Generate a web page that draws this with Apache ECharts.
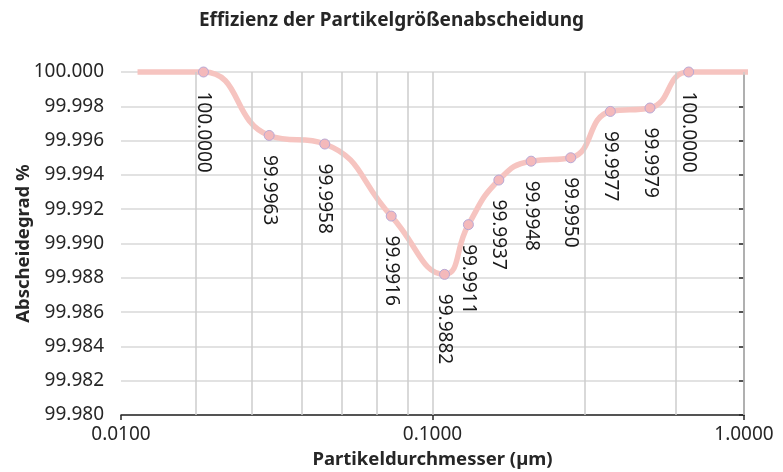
<!DOCTYPE html>
<html>
<head>
<meta charset="utf-8">
<script src="https://cdn.jsdelivr.net/npm/echarts@6/dist/echarts.min.js"></script>
<style>
html,body{margin:0;padding:0;background:#fff;}
#chart{width:783px;height:472px;}
</style>
</head>
<body>
<div id="chart"></div>
<script>
// Particle diameters (µm) and separation efficiency (%)
const diameters = [0.0113, 0.0184, 0.0299, 0.0451, 0.0737, 0.1093, 0.1304, 0.1633, 0.2073, 0.2778, 0.3724, 0.4991, 0.6644, 1.13];
const efficiency = [100.0000, 100.0000, 99.9963, 99.9958, 99.9916, 99.9882, 99.9911, 99.9937, 99.9948, 99.9950, 99.9977, 99.9979, 100.0000, 100.0000];
// which points carry a marker + value label
const labelled = [false, true, true, true, true, true, true, true, true, true, true, true, true, false];
// vertical gridline positions (µm)
const gridLinesX = [0.0173, 0.0266, 0.0376, 0.0508, 0.0657, 0.0824, 0.1, 0.3077, 0.596, 1.0];
const xTickLabels = ['0.0100', '0.1000', '1.0000'];

const FONT = '"Noto Sans", sans-serif';
const TXT = '#262626';

const seriesData = diameters.map((d, i) => {
  const item = { value: [Math.log10(d), efficiency[i]] };
  if (!labelled[i]) {
    item.symbol = 'none';
    item.label = { show: false };
  }
  return item;
});

const chart = echarts.init(document.getElementById('chart'));
chart.setOption({
  animation: false,
  backgroundColor: '#ffffff',
  title: {
    text: 'Effizienz der Partikelgrößenabscheidung',
    left: 'center',
    top: 6,
    textStyle: { fontFamily: FONT, fontSize: 19, fontWeight: 'bold', color: TXT }
  },
  grid: { left: 121, right: 39, top: 72, bottom: 57, containLabel: false, outerBoundsMode: 'none' },
  xAxis: {
    type: 'value',
    min: -2, max: 0, interval: 1,
    name: 'Partikeldurchmesser (µm)',
    nameLocation: 'middle',
    nameGap: 35,
    nameMoveOverlap: false,
    nameTextStyle: { fontFamily: FONT, fontSize: 18.5, fontWeight: 'bold', color: TXT },
    axisLine: { show: true, lineStyle: { color: '#262626', width: 1.5 } },
    axisTick: { show: true, length: 5, lineStyle: { color: '#262626', width: 1.5 } },
    axisLabel: {
      fontFamily: FONT, fontSize: 19, color: TXT, margin: 10,
      formatter: v => xTickLabels[Math.round(v) + 2]
    },
    splitLine: { show: false }
  },
  yAxis: {
    type: 'value',
    min: 99.98, max: 100, interval: 0.002,
    name: 'Abscheidegrad %',
    nameLocation: 'middle',
    nameRotate: 90,
    nameGap: 88,
    nameMoveOverlap: false,
    nameTextStyle: { fontFamily: FONT, fontSize: 18.5, fontWeight: 'bold', color: TXT },
    axisLine: { show: true, lineStyle: { color: '#262626', width: 1.5 } },
    axisTick: { show: true, length: 5, lineStyle: { color: '#262626', width: 1.5 } },
    axisLabel: {
      fontFamily: FONT, fontSize: 19, color: TXT, margin: 17,
      formatter: v => v.toFixed(3)
    },
    splitLine: { show: true, lineStyle: { color: '#d9d9d9', width: 1.5 } }
  },
  series: [
    {
      type: 'line',
      z: 1,
      data: [],
      silent: true,
      markLine: {
        silent: true,
        symbol: 'none',
        label: { show: false },
        lineStyle: { color: '#cccccc', width: 1.5, type: 'solid' },
        data: gridLinesX.map(v => ({ xAxis: Math.log10(v) }))
      }
    },
    {
      type: 'line',
      z: 3,
      clip: false,
      smooth: 0.5,
      data: seriesData,
      symbol: 'circle',
      symbolSize: 10,
      showAllSymbol: true,
      lineStyle: { color: '#f6c4c0', width: 5.5 },
      itemStyle: { color: '#f4b9bb', borderColor: '#b8a9d6', borderWidth: 1 },
      label: {
        show: true,
        position: 'bottom',
        distance: 14,
        rotate: -90,
        align: 'left',
        verticalAlign: 'middle',
        fontFamily: FONT,
        fontSize: 19,
        color: '#1a1a1a',
        formatter: p => p.value[1].toFixed(4)
      }
    }
  ]
});
</script>
</body>
</html>
